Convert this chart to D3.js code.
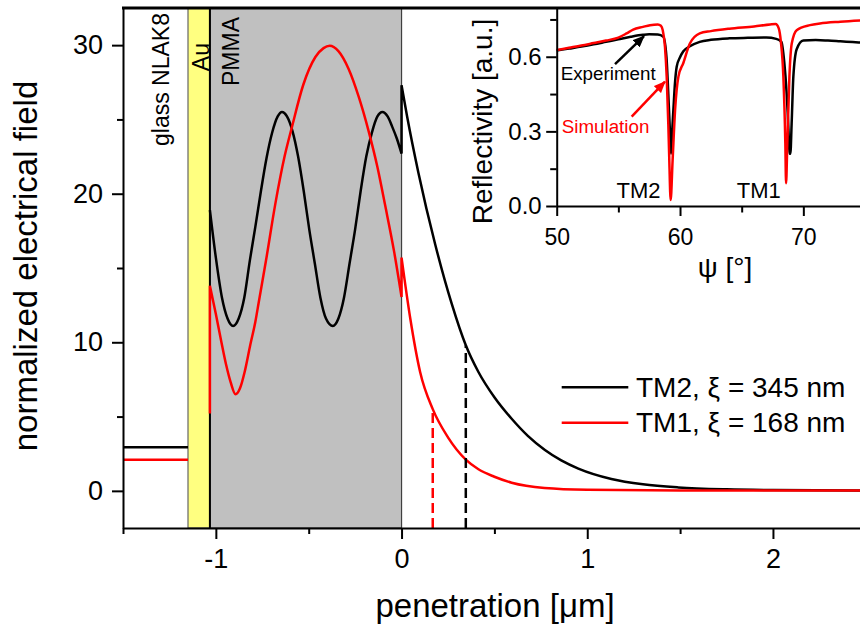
<!DOCTYPE html>
<html>
<head>
<meta charset="utf-8">
<script src="https://cdn.jsdelivr.net/npm/d3@7"></script>
<style>
  body { margin: 0; background: #fff; }
  svg { display: block; }
</style>
</head>
<body>
<svg id="chart" width="860" height="633"></svg>
<script>
// ---- main plot data: penetration [µm] vs normalized field ----
var seriesNames = ["TM2, \u03be = 345 nm", "TM1, \u03be = 168 nm"];

var tm2Glass = [[-1.5, 2.94], [-1.15, 2.94]];
var tm1Glass = [[-1.5, 2.1], [-1.15, 2.1]];

var tm2Pmma = [[-1.032, 18.9], [-1.0, 15.7], [-0.967, 13.0], [-0.937, 11.6], [-0.907, 11.1],
  [-0.877, 11.6], [-0.847, 13.0], [-0.817, 15.5], [-0.787, 17.8], [-0.757, 20.2],
  [-0.727, 22.4], [-0.697, 24.1], [-0.667, 25.2], [-0.644, 25.5], [-0.617, 25.2],
  [-0.587, 24.2], [-0.557, 22.5], [-0.527, 20.2], [-0.497, 17.6], [-0.467, 15.3],
  [-0.437, 13.0], [-0.407, 11.6], [-0.37, 11.1], [-0.34, 11.6], [-0.31, 13.0],
  [-0.28, 15.3], [-0.25, 17.6], [-0.22, 20.2], [-0.19, 22.5], [-0.16, 24.1],
  [-0.13, 25.2], [-0.103, 25.5], [-0.075, 25.2], [-0.05, 24.5], [-0.025, 23.7], [0, 22.7]];
var tm2Out = [[0, 27.3], [0.03, 25.2], [0.091, 21.4], [0.181, 16.6], [0.27, 12.6],
  [0.346, 9.8], [0.414, 8.0], [0.5, 6.3], [0.593, 4.85], [0.68, 3.7], [0.772, 2.75],
  [0.86, 2.05], [0.952, 1.5], [1.13, 0.8], [1.3, 0.44], [1.49, 0.23], [1.75, 0.1],
  [2.0, 0.05], [2.5, 0.02]];

var tm1Stub = [[-1.032, 5.2], [-1.032, 13.8]];
var tm1Pmma = [[-1.032, 13.8], [-1.0, 11.9], [-0.97, 10.0], [-0.945, 8.5], [-0.92, 7.3],
  [-0.894, 6.5], [-0.87, 6.9], [-0.845, 8.0], [-0.815, 9.8], [-0.787, 11.4],
  [-0.769, 12.7], [-0.73, 15.5], [-0.68, 19.3], [-0.63, 22.5], [-0.59, 24.5],
  [-0.53, 27.3], [-0.464, 29.2], [-0.42, 29.8], [-0.387, 29.96], [-0.34, 29.6],
  [-0.285, 28.4], [-0.23, 26.5], [-0.177, 24.2], [-0.13, 21.8], [-0.088, 19.2],
  [-0.04, 16.1], [0, 13.05]];
var tm1Out = [[0, 15.7], [0.047, 11.6], [0.1, 8.0], [0.168, 5.5], [0.25, 3.6], [0.346, 2.1],
  [0.414, 1.45], [0.5, 0.95], [0.593, 0.55], [0.77, 0.2], [1.0, 0.08], [1.5, 0.03], [2.5, 0.02]];

// decay length markers: [x, top value]
var tm2Marker = [0.346, 9.8];
var tm1Marker = [0.168, 5.5];

// layer stack
var layerNames = ["glass NLAK8", "Au", "PMMA"];
var layerEdges = [-1.5, -1.15, -1.032, 0];

var mainXTicks = [-1, 0, 1, 2];
var mainXMinor = [-1.5, -0.5, 0.5, 1.5, 2.5];
var mainYTicks = [0, 10, 20, 30];
var mainYMinor = [5, 15, 25];

// ---- inset data: reflectivity vs angle psi ----
var experiment = [[50, 0.625], [51, 0.633], [52, 0.641], [53, 0.65], [54, 0.66], [55, 0.67],
  [56, 0.68], [57, 0.688], [57.5, 0.69], [58.2, 0.689], [58.65, 0.68], [58.9, 0.6],
  [59.05, 0.45], [59.2, 0.28], [59.27, 0.21], [59.34, 0.28], [59.46, 0.385], [59.6, 0.5],
  [59.73, 0.56], [60, 0.598], [60.27, 0.622], [60.8, 0.642], [61.6, 0.66], [62.5, 0.668],
  [64, 0.674], [65.5, 0.676], [67, 0.677], [67.8, 0.672], [68.22, 0.66], [68.45, 0.58],
  [68.65, 0.45], [68.8, 0.3], [68.87, 0.21], [68.95, 0.21], [69.05, 0.33], [69.19, 0.52],
  [69.46, 0.63], [70, 0.665], [71, 0.667], [72, 0.665], [73, 0.662], [74, 0.659], [75, 0.656]];
var simulation = [[50, 0.627], [51, 0.636], [52, 0.645], [53, 0.655], [54, 0.665], [55, 0.677],
  [55.67, 0.694], [56.2, 0.709], [57, 0.72], [57.57, 0.727], [58.2, 0.73], [58.45, 0.725],
  [58.6, 0.707], [58.78, 0.64], [58.92, 0.52], [59.05, 0.33], [59.13, 0.185], [59.24, 0.024],
  [59.4, 0.185], [59.6, 0.386], [59.87, 0.52], [60.27, 0.575], [60.8, 0.653], [61.6, 0.694],
  [62.5, 0.703], [64, 0.713], [66, 0.722], [67.3, 0.73], [67.75, 0.732], [68.0, 0.715],
  [68.18, 0.66], [68.38, 0.52], [68.54, 0.252], [68.6, 0.091], [68.7, 0.252], [68.87, 0.52],
  [69.06, 0.653], [69.46, 0.707], [70.54, 0.727], [71.35, 0.734], [73, 0.741], [75, 0.747]];

var insetXTicks = [50, 60, 70];
var insetXMinor = [55, 65, 75];
var insetYTicks = [0, 0.3, 0.6];
var insetYMinor = [0.15, 0.45, 0.75];

var modeLabels = [["TM2", 54.85], ["TM1", 64.6]];
var arrowNotes = [
  { text: "Experiment", from: [54.73, 0.57], to: [57.08, 0.683], color: "#000" },
  { text: "Simulation", from: [56.08, 0.359], to: [58.78, 0.5], color: "#f00" }
];

// ---- drawing ----
var font = "'Liberation Sans', Arial, Helvetica, sans-serif";
var svg = d3.select("#chart").attr("font-family", font);

var x = d3.scaleLinear().domain([-1.5, 2.5]).range([123, 865.8]);
var y = d3.scaleLinear().domain([-2.5, 32.5]).range([528, 8]);

var curveLine = d3.line().x(d => x(d[0])).y(d => y(d[1])).curve(d3.curveMonotoneX);

function joinSegs(gen, segs) {
  return segs.map(function (s, i) {
    var d = gen(s);
    return i ? d.replace(/^M/, "L") : d;
  }).join("");
}

// layers
var layerFill = ["none", "#ffff80", "#c0c0c0"];
var layerStroke = ["none", "#666", "#404040"];
svg.selectAll(".layer").data(layerNames).enter().append("rect")
  .attr("class", "layer")
  .attr("x", (d, i) => x(layerEdges[i]))
  .attr("y", y(32.5))
  .attr("width", (d, i) => x(layerEdges[i + 1]) - x(layerEdges[i]))
  .attr("height", y(-2.5) - y(32.5))
  .attr("fill", (d, i) => layerFill[i])
  .attr("stroke", (d, i) => layerStroke[i])
  .attr("stroke-width", 1.2);

// Au / PMMA interface line
svg.append("line")
  .attr("x1", x(layerEdges[2])).attr("x2", x(layerEdges[2]))
  .attr("y1", y(32.5)).attr("y2", y(-2.5))
  .attr("stroke", "#000").attr("stroke-width", 2);

// layer names (rotated)
var layerLabelX = [169, 208.5, 239];
var layerLabelEnd = [13, 43, 17];
svg.selectAll(".layername").data(layerNames).enter().append("text")
  .attr("transform", (d, i) => "translate(" + layerLabelX[i] + "," + layerLabelEnd[i] + ") rotate(-90)")
  .attr("text-anchor", "end")
  .attr("font-size", 23)
  .text(d => d);

// field curves
var curveColors = ["#000", "#f00"];
svg.append("path").attr("d", curveLine(tm2Glass))
  .attr("fill", "none").attr("stroke", curveColors[0]).attr("stroke-width", 2.5);
svg.append("path").attr("d", curveLine(tm1Glass))
  .attr("fill", "none").attr("stroke", curveColors[1]).attr("stroke-width", 2.5);
svg.append("path").attr("d", joinSegs(curveLine, [tm2Pmma, tm2Out]))
  .attr("fill", "none").attr("stroke", curveColors[0]).attr("stroke-width", 2.5);
svg.append("path").attr("d", joinSegs(curveLine, [tm1Stub, tm1Pmma, tm1Out]))
  .attr("fill", "none").attr("stroke", curveColors[1]).attr("stroke-width", 2.5);

// decay length markers
[tm2Marker, tm1Marker].forEach(function (m, i) {
  svg.append("line")
    .attr("x1", x(m[0])).attr("x2", x(m[0]))
    .attr("y1", y(-2.5)).attr("y2", y(m[1]))
    .attr("stroke", curveColors[i]).attr("stroke-width", 2.5)
    .attr("stroke-dasharray", "10,5");
});

// legend
var legend = svg.append("g");
seriesNames.forEach(function (name, i) {
  var ly = 387.3 + i * 35.4;
  legend.append("line").attr("x1", 561.7).attr("x2", 628.3).attr("y1", ly).attr("y2", ly)
    .attr("stroke", curveColors[i]).attr("stroke-width", 2.5);
  legend.append("text").attr("x", 636).attr("y", ly + 9.4)
    .attr("font-size", 28).text(name);
});

// axes helper
function styleAxis(g, fs) {
  g.attr("font-family", font).attr("font-size", fs);
  g.selectAll("line, path").attr("stroke", "#000").attr("stroke-width", 2);
  g.selectAll("text").attr("fill", "#000");
}
function drawAxis(g, axisFn, scale, major, minor, big, small, pad, fmt, fs) {
  g.call(axisFn(scale).tickValues(major).tickSizeInner(big).tickSizeOuter(0)
    .tickPadding(pad).tickFormat(fmt));
  g.append("g").call(axisFn(scale).tickValues(minor).tickSize(small).tickFormat(""))
    .call(a => a.select(".domain").remove());
  styleAxis(g, fs);
}

var fmtMinus = d => String(d).replace("\u2212", "-");
drawAxis(svg.append("g").attr("transform", "translate(0," + y(-2.5) + ")"),
  d3.axisBottom, x, mainXTicks, mainXMinor, 11, 6, 10, fmtMinus, 27);
drawAxis(svg.append("g").attr("transform", "translate(" + x(-1.5) + ",0)"),
  d3.axisLeft, y, mainYTicks, mainYMinor, 11, 6, 9, d3.format("d"), 27);

svg.append("text").attr("x", 495).attr("y", 616.5).attr("text-anchor", "middle")
  .attr("font-size", 33).text("penetration [\u03bcm]");
svg.append("text").attr("transform", "translate(37,266) rotate(-90)")
  .attr("text-anchor", "middle").attr("font-size", 33).text("normalized electrical field");

// ---- inset ----
var ix = d3.scaleLinear().domain([50, 75]).range([556.7, 865]);
var iy = d3.scaleLinear().domain([0, 0.8]).range([206, 7]);
var insetLine = d3.line().x(d => ix(d[0])).y(d => iy(d[1])).curve(d3.curveMonotoneX);

var inset = svg.append("g");
inset.append("rect").attr("x", 462).attr("y", 9.5).attr("width", 400).attr("height", 282)
  .attr("fill", "#fff");

inset.append("path").attr("d", insetLine(experiment))
  .attr("fill", "none").attr("stroke", "#000").attr("stroke-width", 2.5);
inset.append("path").attr("d", insetLine(simulation))
  .attr("fill", "none").attr("stroke", "#f00").attr("stroke-width", 2.5);

var defs = svg.append("defs");
arrowNotes.forEach(function (a, i) {
  defs.append("marker").attr("id", "arrow" + i)
    .attr("viewBox", "0 0 12 10").attr("refX", 11).attr("refY", 5)
    .attr("markerWidth", 12).attr("markerHeight", 10)
    .attr("markerUnits", "userSpaceOnUse").attr("orient", "auto")
    .append("path").attr("d", "M0,0L12,5L0,10Z").attr("fill", a.color);
  inset.append("line")
    .attr("x1", ix(a.from[0])).attr("y1", iy(a.from[1]))
    .attr("x2", ix(a.to[0])).attr("y2", iy(a.to[1]))
    .attr("stroke", a.color).attr("stroke-width", 2.5)
    .attr("marker-end", "url(#arrow" + i + ")");
});
inset.append("text").attr("x", 560.7).attr("y", 80).attr("font-size", 18.8)
  .attr("fill", arrowNotes[0].color).text(arrowNotes[0].text);
inset.append("text").attr("x", 561.7).attr("y", 133).attr("font-size", 18.8)
  .attr("fill", arrowNotes[1].color).text(arrowNotes[1].text);

modeLabels.forEach(function (m) {
  inset.append("text").attr("x", ix(m[1])).attr("y", 198.3).attr("font-size", 22).text(m[0]);
});

drawAxis(inset.append("g").attr("transform", "translate(0," + iy(0) + ")"),
  d3.axisBottom, ix, insetXTicks, insetXMinor, 10, 6.5, 12.5, d3.format("d"), 23);
drawAxis(inset.append("g").attr("transform", "translate(" + ix(50) + ",0)"),
  d3.axisLeft, iy, insetYTicks, insetYMinor, 10.5, 6.5, 4.5, d3.format(".1f"), 24);

inset.append("text").attr("x", 725).attr("y", 276.5).attr("text-anchor", "middle")
  .attr("font-size", 28).text("\u03c8 [\u00b0]");
inset.append("text").attr("transform", "translate(491.5,121.5) rotate(-90)")
  .attr("text-anchor", "middle").attr("font-size", 28).text("Reflectivity [a.u.]");

// top frame line
svg.append("line").attr("x1", x(-1.5) - 1).attr("x2", 860).attr("y1", 8).attr("y2", 8)
  .attr("stroke", "#000").attr("stroke-width", 3);
</script>
</body>
</html>
